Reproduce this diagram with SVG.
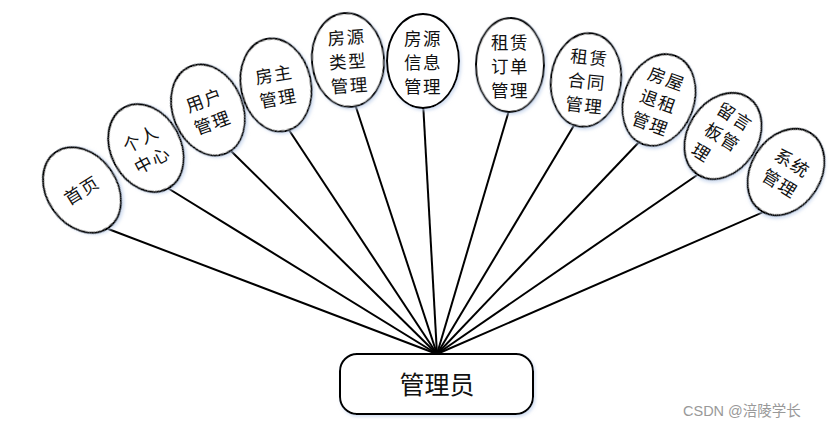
<svg xmlns="http://www.w3.org/2000/svg" width="835" height="433" viewBox="0 0 835 433">
<defs>
<filter id="sh" x="-20%" y="-20%" width="140%" height="140%">
<feDropShadow dx="1.5" dy="2" stdDeviation="1.5" flood-color="#b8cbe8" flood-opacity="0.6"/>
</filter>
<style>
.n{fill:#fff;stroke:#000;stroke-width:2;filter:url(#sh)}
.t{font-family:"Noto Sans CJK SC","Noto Sans CJK JP",sans-serif;font-size:17.5px;letter-spacing:1.5px;fill:#111;text-anchor:middle;dominant-baseline:central}
.c line{stroke:#000;stroke-width:2}
</style>
</defs>
<rect width="835" height="433" fill="#fff"/>
<g id="connectors" class="c">
<line x1="437" y1="354" x2="103" y2="227"/>
<line x1="437" y1="354" x2="166" y2="187"/>
<line x1="437" y1="354" x2="230" y2="150"/>
<line x1="437" y1="354" x2="287" y2="127"/>
<line x1="437" y1="354" x2="354" y2="101"/>
<line x1="437" y1="354" x2="423" y2="102"/>
<line x1="437" y1="354" x2="510" y2="107"/>
<line x1="437" y1="354" x2="576" y2="122"/>
<line x1="437" y1="354" x2="641" y2="140"/>
<line x1="437" y1="354" x2="703" y2="171"/>
<line x1="437" y1="354" x2="768" y2="210"/>
</g>
<g id="n1"><ellipse class="n" cx="82" cy="190" rx="35" ry="46" transform="rotate(-35 82 190)"/>
<text class="t" transform="translate(81 189) rotate(-32)"><tspan x="0" y="0">首页</tspan></text></g>
<g id="n2"><ellipse class="n" cx="146" cy="148" rx="35" ry="46" transform="rotate(-28 146 148)"/>
<text class="t" transform="translate(146 148) rotate(-28)"><tspan x="0" y="-12">个人</tspan><tspan x="0" y="12">中心</tspan></text></g>
<g id="n3"><ellipse class="n" cx="208" cy="110" rx="35" ry="47" transform="rotate(-22 208 110)"/>
<text class="t" transform="translate(208 110) rotate(-20)"><tspan x="0" y="-12">用户</tspan><tspan x="0" y="12">管理</tspan></text></g>
<g id="n4"><ellipse class="n" cx="276" cy="85" rx="35" ry="47" transform="rotate(-12 276 85)"/>
<text class="t" transform="translate(276 85) rotate(-10)"><tspan x="0" y="-12">房主</tspan><tspan x="0" y="12">管理</tspan></text></g>
<g id="n5"><ellipse class="n" cx="348" cy="60" rx="36" ry="47" transform="rotate(-5 348 60)"/>
<text class="t" transform="translate(348 60) rotate(-4)"><tspan x="0" y="-24">房源</tspan><tspan x="0" y="0">类型</tspan><tspan x="0" y="24">管理</tspan></text></g>
<g id="n6"><ellipse class="n" cx="423" cy="61" rx="36" ry="47"/>
<text class="t" transform="translate(423 61)"><tspan x="0" y="-24">房源</tspan><tspan x="0" y="0">信息</tspan><tspan x="0" y="24">管理</tspan></text></g>
<g id="n7"><ellipse class="n" cx="510" cy="65" rx="34" ry="47" transform="rotate(1 510 65)"/>
<text class="t" transform="translate(510 65)"><tspan x="0" y="-24">租赁</tspan><tspan x="0" y="0">订单</tspan><tspan x="0" y="24">管理</tspan></text></g>
<g id="n8"><ellipse class="n" cx="586" cy="80" rx="35" ry="47" transform="rotate(8 586 80)"/>
<text class="t" transform="translate(587 80) rotate(6)"><tspan x="0" y="-24">租赁</tspan><tspan x="0" y="0">合同</tspan><tspan x="0" y="24">管理</tspan></text></g>
<g id="n9"><ellipse class="n" cx="659" cy="100" rx="35" ry="47" transform="rotate(20 659 100)"/>
<text class="t" transform="translate(659 100) rotate(20)"><tspan x="0" y="-24">房屋</tspan><tspan x="0" y="0">退租</tspan><tspan x="0" y="24">管理</tspan></text></g>
<g id="n10"><ellipse class="n" cx="723" cy="136" rx="35" ry="46" transform="rotate(33 723 136)"/>
<text class="t" transform="translate(723 136) rotate(32)" style="text-anchor:start"><tspan x="-19" y="-24">留言</tspan><tspan x="-19" y="0">板管</tspan><tspan x="-19" y="24">理</tspan></text></g>
<g id="n11"><ellipse class="n" cx="786" cy="172" rx="35" ry="46" transform="rotate(32 786 172)"/>
<text class="t" transform="translate(787 172) rotate(32)"><tspan x="0" y="-12">系统</tspan><tspan x="0" y="12">管理</tspan></text></g>
<g id="admin"><rect class="n" x="340" y="354" width="193" height="60" rx="17"/>
<text class="t" x="437" y="383" style="font-size:25px;letter-spacing:0">管理员</text></g>
<text x="683" y="416" style="font-family:'Liberation Sans','Noto Sans CJK SC',sans-serif;font-size:14.5px;fill:#999">CSDN @涪陵学长</text>
</svg>
